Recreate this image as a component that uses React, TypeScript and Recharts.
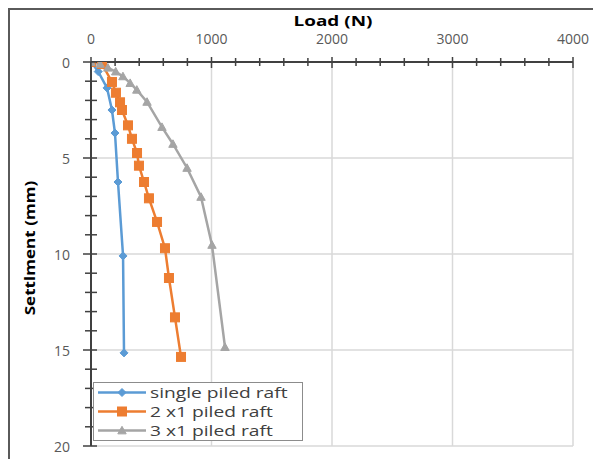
import React from 'react';
import { LineChart, Line, XAxis, YAxis, ReferenceLine } from 'recharts';

// Load (N) and settlement (mm) values
const singleLoad = [0, 60, 133, 174, 199, 224, 266, 274];
const singleSettle = [0, 0.5, 1.35, 2.5, 3.7, 6.25, 10.1, 15.15];

const twoLoad = [0, 91, 174, 207, 241, 257, 307, 340, 382, 398, 440, 481, 548, 614, 647, 697, 747];
const twoSettle = [0, 0.1, 1.04, 1.6, 2.1, 2.5, 3.3, 4.0, 4.74, 5.4, 6.25, 7.1, 8.33, 9.7, 11.25, 13.3, 15.36];

const threeLoad = [0, 75, 140, 205, 265, 325, 380, 465, 589, 680, 797, 913, 1004, 1112];
const threeSettle = [0, 0.1, 0.3, 0.5, 0.75, 1.1, 1.45, 2.08, 3.39, 4.27, 5.52, 7.03, 9.53, 14.85];

const seriesNames = ['single piled raft', '2 x1 piled raft', '3 x1 piled raft'];
const seriesColors = ['#5B9BD5', '#ED7D31', '#A5A5A5'];
const seriesShapes = ['diamond', 'square', 'triangle'];

const xTicks = Array.from({ length: 21 }, (_, i) => i * 200);
const yTicks = Array.from({ length: 21 }, (_, i) => i);
const xGrid = [1000, 2000, 3000, 4000];
const yGrid = [5, 10, 15, 20];

const toRows = (loads: number[], settles: number[]) =>
  loads.map((l, i) => ({ load: l, s: settles[i] }));

const seriesData = [
  toRows(singleLoad, singleSettle),
  toRows(twoLoad, twoSettle),
  toRows(threeLoad, threeSettle),
];

const FONT = "'Open Sans', Lato, sans-serif";

function Marker({ cx, cy, shape, color }: { cx: number; cy: number; shape: string; color: string }) {
  if (shape === 'diamond') {
    const r = 4;
    return <polygon points={`${cx},${cy - r} ${cx + r},${cy} ${cx},${cy + r} ${cx - r},${cy}`} fill={color} stroke={color} />;
  }
  if (shape === 'square') {
    const r = 4.5;
    return <rect x={cx - r} y={cy - r} width={2 * r} height={2 * r} fill={color} stroke={color} />;
  }
  const r = 4.2;
  return <polygon points={`${cx},${cy - r} ${cx + r},${cy + r * 0.8} ${cx - r},${cy + r * 0.8}`} fill={color} stroke={color} />;
}

const XTick = (props: any) => {
  const { x, y, payload } = props;
  const v = payload.value;
  const major = v % 1000 === 0;
  return (
    <g>
      <line x1={x} x2={x} y1={y - (major ? 5 : 4)} y2={y + (major ? 6 : 4)} stroke="#404040" strokeWidth={1.5} />
      {major && (
        <text x={x} y={y - 24} textAnchor="middle" dominantBaseline="central" fontSize={14} fill="#595959" fontFamily={FONT}>
          {v}
        </text>
      )}
    </g>
  );
};

const YTick = (props: any) => {
  const { x, y, payload } = props;
  const v = payload.value;
  const major = v % 5 === 0;
  return (
    <g>
      <line x1={x - (major ? 8 : 6)} x2={x + 6} y1={y} y2={y} stroke="#404040" strokeWidth={1.5} />
      {major && (
        <text x={x - 21} y={y} textAnchor="end" dominantBaseline="central" fontSize={14} fill="#595959" fontFamily={FONT}>
          {v}
        </text>
      )}
    </g>
  );
};

const LegendBox = () => (
  <div
    style={{
      position: 'absolute',
      left: 83,
      top: 372,
      width: 210,
      height: 59,
      boxSizing: 'border-box',
      border: '1px solid #8c8c8c',
      background: '#fff',
    }}
  >
    {seriesNames.map((name, i) => (
      <div key={name} style={{ position: 'absolute', left: 0, top: 0 + i * 19, height: 19, display: 'flex', alignItems: 'center' }}>
        <svg width={56} height={19} style={{ display: 'block' }}>
          <line x1={4} x2={52} y1={9.5} y2={9.5} stroke={seriesColors[i]} strokeWidth={2.5} />
          <Marker cx={28} cy={9.5} shape={seriesShapes[i]} color={seriesColors[i]} />
        </svg>
        <span
          style={{
            display: 'inline-block',
            fontFamily: FONT,
            fontSize: 15,
            color: '#404040',
            lineHeight: '17px',
            whiteSpace: 'nowrap',
            transform: 'scaleX(1.28)',
            transformOrigin: 'left center',
          }}
        >
          {name}
        </span>
      </div>
    ))}
  </div>
);

export default function App() {
  return (
    <div
      style={{
        position: 'relative',
        width: 593,
        height: 451,
        boxSizing: 'border-box',
        borderTop: '2px solid #5a5a5a',
        borderLeft: '2px solid #5a5a5a',
        overflow: 'hidden',
        background: '#fff',
      }}
    >
      <div style={{ position: 'absolute', left: 0, top: 0 }}>
        <LineChart width={590} height={448} margin={{ top: 22, left: 21, right: 27, bottom: 12 }}>
          <XAxis
            type="number"
            dataKey="load"
            orientation="top"
            domain={[0, 4000]}
            ticks={xTicks}
            interval={0}
            height={30}
            tickSize={0}
            tickMargin={0}
            tick={<XTick />}
            tickLine={false}
            axisLine={{ stroke: '#404040', strokeWidth: 2 }}
            allowDataOverflow
          />
          <YAxis
            type="number"
            dataKey="s"
            domain={[0, 20]}
            reversed
            ticks={yTicks}
            interval={0}
            width={60}
            tickSize={0}
            tickMargin={0}
            tick={<YTick />}
            tickLine={false}
            axisLine={{ stroke: '#404040', strokeWidth: 2 }}
            allowDataOverflow
          />
          {xGrid.map((v) => (
            <ReferenceLine key={'x' + v} x={v} stroke="#d9d9d9" strokeWidth={1.5} />
          ))}
          {yGrid.map((v) => (
            <ReferenceLine key={'y' + v} y={v} stroke="#d9d9d9" strokeWidth={1.5} />
          ))}
          {seriesData.map((d, i) => (
            <Line
              key={seriesNames[i]}
              data={d}
              dataKey="s"
              name={seriesNames[i]}
              type="linear"
              stroke={seriesColors[i]}
              strokeWidth={2.5}
              isAnimationActive={false}
              dot={(p: any) => (
                <Marker key={`${i}-${p.index}`} cx={p.cx} cy={p.cy} shape={seriesShapes[i]} color={seriesColors[i]} />
              )}
              activeDot={false}
            />
          ))}
        </LineChart>
      </div>
      <div
        style={{
          position: 'absolute',
          left: 323 - 60,
          top: 4,
          width: 120,
          height: 14,
          textAlign: 'center',
          fontFamily: FONT,
          fontWeight: 700,
          fontSize: 14,
          lineHeight: '14px',
          color: '#000',
          whiteSpace: 'nowrap',
          transform: 'scaleX(1.35)',
        }}
      >
        Load (N)
      </div>
      <div
        style={{
          position: 'absolute',
          left: 20 - 80,
          top: 238 - 10,
          width: 160,
          height: 20,
          lineHeight: '20px',
          textAlign: 'center',
          transform: 'rotate(-90deg) scaleX(1.22)',
          fontFamily: FONT,
          fontWeight: 700,
          fontSize: 14,
          color: '#000',
          whiteSpace: 'nowrap',
        }}
      >
        Settlment (mm)
      </div>
      <LegendBox />
    </div>
  );
}
